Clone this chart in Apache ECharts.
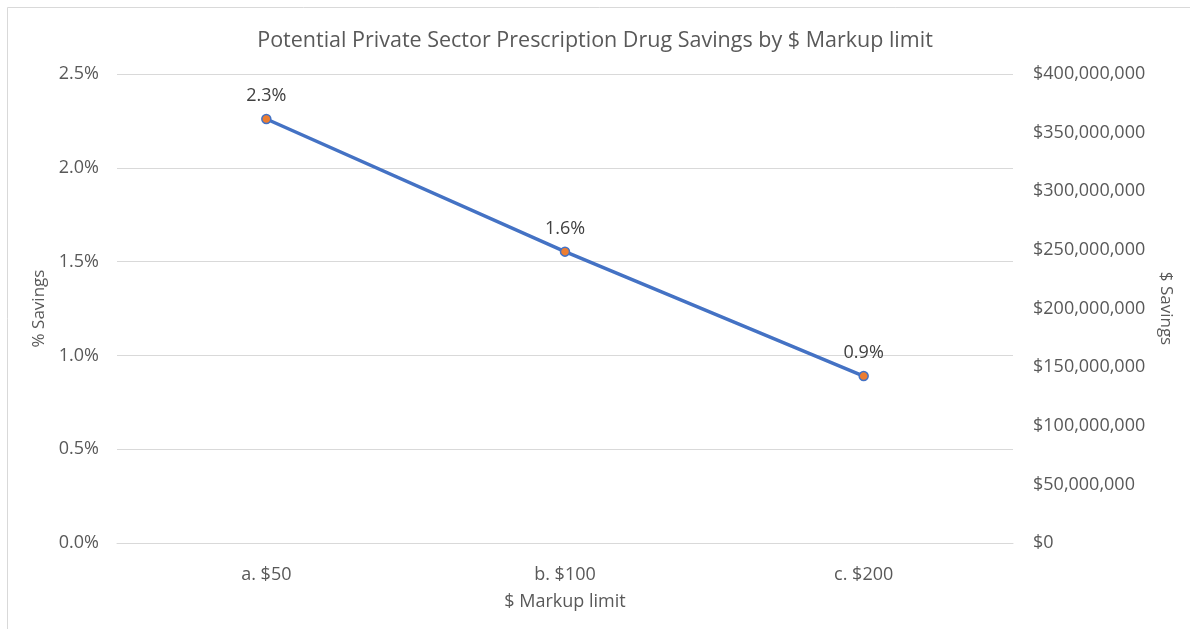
<!DOCTYPE html>
<html>
<head>
<meta charset="utf-8">
<script src="https://cdn.jsdelivr.net/npm/echarts@6/dist/echarts.min.js"></script>
<style>
html,body{margin:0;padding:0;background:#fff;}
#chart{width:1190px;height:629px;}
</style>
</head>
<body>
<div id="chart"></div>
<script>
const categories = ['a. $50', 'b. $100', 'c. $200'];
const pctSavings = [2.26, 1.553, 0.89];
const dollarSavings = [361600000, 248500000, 142400000];

const chart = echarts.init(document.getElementById('chart'));
const font = '"Open Sans", "Noto Sans", sans-serif';
chart.setOption({
  backgroundColor: '#fff',
  animation: false,
  textStyle: { fontFamily: font },
  graphic: [{
    type: 'rect', left: 5, top: 5,
    shape: { width: 1200, height: 640 },
    style: { fill: 'none', stroke: '#d9d9d9', lineWidth: 1 }
  }],
  title: {
    text: 'Potential Private Sector Prescription Drug Savings by $ Markup limit',
    left: 'center', top: 25,
    textStyle: { fontFamily: font, fontSize: 21.5, fontWeight: 'normal', color: '#595959' }
  },
  grid: { left: 117, right: 177, top: 74, bottom: 86 },
  xAxis: {
    type: 'category',
    data: categories,
    name: '$ Markup limit',
    nameLocation: 'middle',
    nameGap: 50,
    nameTextStyle: { fontSize: 18, color: '#595959', fontFamily: font },
    axisLine: { show: true, lineStyle: { color: '#d9d9d9', width: 1 } },
    axisTick: { show: false },
    axisLabel: { fontSize: 18, color: '#595959', margin: 23, fontFamily: font }
  },
  yAxis: [{
    type: 'value', min: 0, max: 2.5, interval: 0.5,
    name: '% Savings', nameLocation: 'middle', nameRotate: 90, nameGap: 64,
    nameTextStyle: { fontSize: 17, color: '#595959', fontFamily: font },
    axisLine: { show: false }, axisTick: { show: false },
    axisLabel: { fontSize: 18, color: '#595959', margin: 18, fontFamily: font,
      formatter: v => v.toFixed(1) + '%' },
    splitLine: { lineStyle: { color: '#d9d9d9', width: 1 } }
  }, {
    type: 'value', min: 0, max: 400000000, interval: 50000000,
    name: '$ Savings', nameLocation: 'middle', nameRotate: -90, nameGap: 144,
    nameTextStyle: { fontSize: 17, color: '#595959', fontFamily: font },
    axisLine: { show: false }, axisTick: { show: false },
    axisLabel: { fontSize: 18, color: '#595959', margin: 20, fontFamily: font,
      formatter: v => '$' + v.toLocaleString('en-US') },
    splitLine: { show: false }
  }],
  series: [{
    name: '% Savings',
    type: 'line',
    yAxisIndex: 0,
    data: pctSavings,
    symbol: 'none',
    lineStyle: { color: '#4472C4', width: 3.5 },
    z: 2
  }, {
    name: '$ Savings',
    type: 'line',
    yAxisIndex: 1,
    data: dollarSavings,
    symbol: 'circle',
    symbolSize: 9,
    lineStyle: { width: 0, opacity: 0 },
    itemStyle: { color: '#ED7D31', borderColor: '#4472C4', borderWidth: 1.5 },
    label: {
      show: true, position: 'top', distance: 9,
      fontSize: 18, color: '#404040', fontFamily: font,
      formatter: p => pctSavings[p.dataIndex].toFixed(1) + '%'
    },
    z: 3
  }]
});
</script>
</body>
</html>
